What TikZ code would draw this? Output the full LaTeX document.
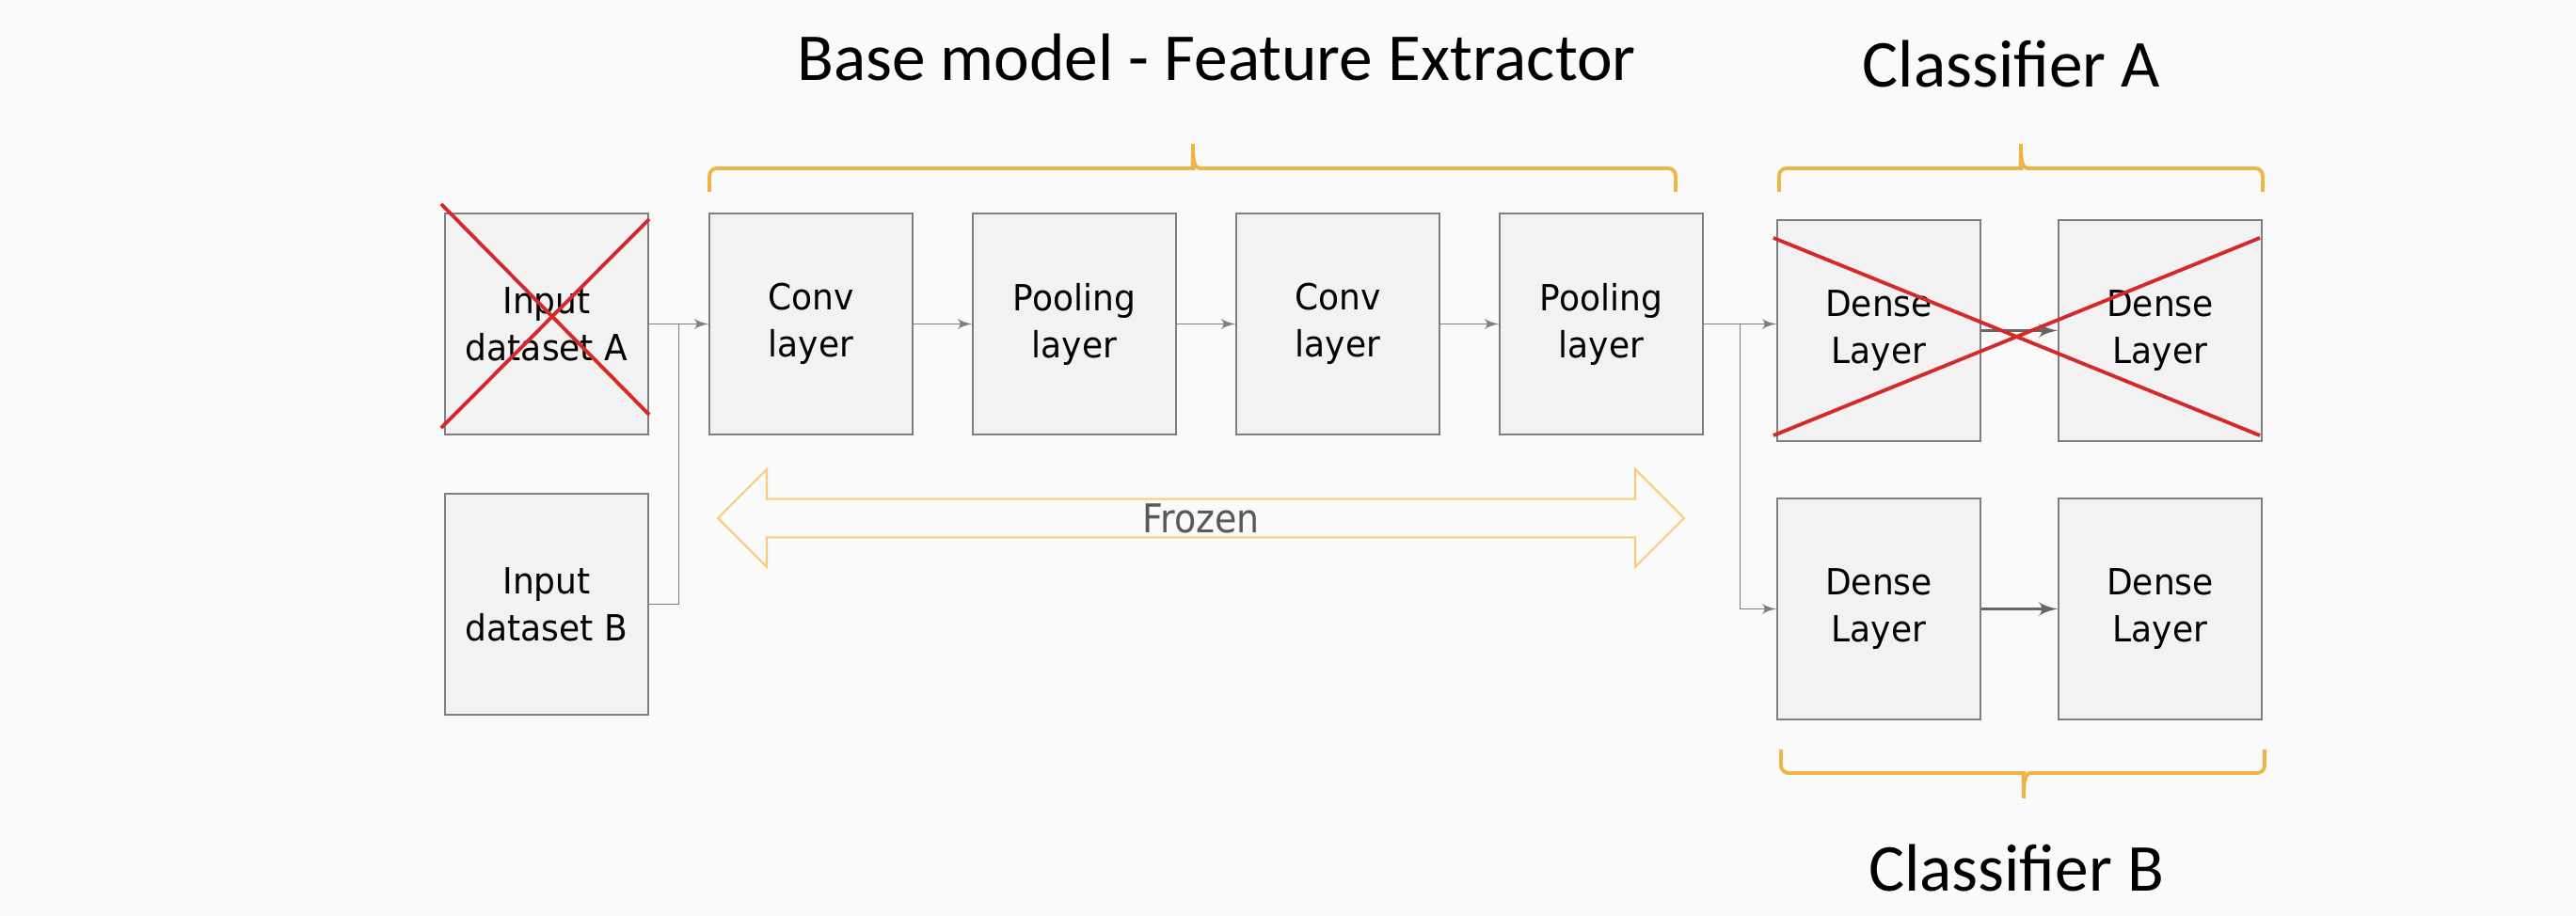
\documentclass[tikz,border=0pt]{standalone}
\usepackage{fontspec}
\setmainfont[FakeStretch=0.94]{DejaVu Sans}
\newfontfamily\headfont{Carlito}
\newfontfamily\frozenfont[FakeStretch=0.9]{DejaVu Sans}
\usetikzlibrary{arrows,positioning,calc,shapes.arrows}
\definecolor{colbg}{RGB}{250,250,250}
\definecolor{colbox}{RGB}{242,242,242}
\definecolor{colline}{RGB}{127,127,127}
\definecolor{colbrace}{RGB}{238,180,70}
\definecolor{colfrozen}{RGB}{250,204,120}
\definecolor{colcross}{RGB}{212,42,42}
\tikzstyle{layerbox}=[draw=colline, line width=0.6pt, fill=colbox, minimum width=2.16cm, minimum height=2.35cm, align=center, inner sep=0pt, font=\fontsize{10.9}{14.2}\selectfont]
\tikzstyle{link}=[color=colline, line width=0.5pt]
\tikzstyle{thick link}=[color=black!60, line width=1pt]
\tikzstyle{curly}=[draw=colbrace, line width=1.1pt]
\tikzstyle{redcross}=[draw=colcross, line width=1.1pt]
\tikzstyle{headline}=[font=\headfont\fontsize{20.3}{24}\selectfont, anchor=base]
\begin{document}
\begin{tikzpicture}[>=latex',node distance=2.8cm]
    \fill[colbg] (0,0) rectangle (27.38,-9.74);
    \useasboundingbox (0,0) rectangle (27.38,-9.74);
    \node [layerbox] (ina) at (5.81,-3.445) {Input\\dataset A};
    \node [layerbox] (inb) [below of=ina,node distance=2.98cm] {Input\\dataset B};
    \node [layerbox] (conv1) [right of=ina,node distance=2.81cm] {Conv\\layer};
    \node [layerbox] (pool1) [right of=conv1] {Pooling\\layer};
    \node [layerbox] (conv2) [right of=pool1] {Conv\\layer};
    \node [layerbox] (pool2) [right of=conv2] {Pooling\\layer};
    \node [layerbox] (densea1) at (19.97,-3.515) {Dense\\Layer};
    \node [layerbox] (densea2) [right of=densea1,node distance=2.99cm] {Dense\\Layer};
    \node [layerbox] (denseb1) [below of=densea1,node distance=2.96cm] {Dense\\Layer};
    \node [layerbox] (denseb2) [right of=denseb1,node distance=2.99cm] {Dense\\Layer};
    \coordinate (joina) at ($(ina.east)!0.5!(conv1.west)$);
    \coordinate (joinb) at ($(pool2.east)!0.5!(pool2.east -| densea1.west)$);
    \path[->,link]
    (ina) edge (conv1)
    (conv1) edge (pool1)
    (pool1) edge (conv2)
    (conv2) edge (pool2)
    (pool2.east) edge (pool2.east -| densea1.west);
    \draw[link] (inb.east) -| (joina);
    \draw[->,link] (joinb) |- (denseb1.west);
    \path[->,thick link]
    (densea1) edge (densea2)
    (denseb1) edge (denseb2);
    % frozen part
    \node [draw=colfrozen, line width=0.6pt, double arrow, double arrow head extend=0.26cm, minimum width=1.04cm, minimum height=10.27cm, inner sep=0pt, font=\frozenfont\fontsize{12}{14}\selectfont, text=black!65] (frozen) at (12.765,-5.51) {Frozen};
    % braces
    \draw[curly] (7.54,-2.04) [rounded corners=0.8mm] -- (7.54,-1.79) -- (12.60,-1.79) [sharp corners] .. controls (12.67,-1.79) and (12.68,-1.70) .. (12.68,-1.53) .. controls (12.68,-1.70) and (12.69,-1.79) .. (12.76,-1.79) [rounded corners=0.8mm] -- (17.81,-1.79) -- (17.81,-2.04);
    \draw[curly] (18.91,-2.04) [rounded corners=0.8mm] -- (18.91,-1.79) -- (21.40,-1.79) [sharp corners] .. controls (21.47,-1.79) and (21.48,-1.70) .. (21.48,-1.53) .. controls (21.48,-1.70) and (21.49,-1.79) .. (21.56,-1.79) [rounded corners=0.8mm] -- (24.05,-1.79) -- (24.05,-2.04);
    \draw[curly] (18.93,-7.97) [rounded corners=0.8mm] -- (18.93,-8.22) -- (21.43,-8.22) [sharp corners] .. controls (21.50,-8.22) and (21.51,-8.31) .. (21.51,-8.49) .. controls (21.51,-8.31) and (21.52,-8.22) .. (21.59,-8.22) [rounded corners=0.8mm] -- (24.07,-8.22) -- (24.07,-7.97);
    % crossed out
    \draw[redcross] ([shift={(-0.03,0.09)}]ina.north west) -- ([shift={(0,0.22)}]ina.south east);
    \draw[redcross] ([shift={(-0.03,0.08)}]ina.south west) -- ([shift={(0,-0.07)}]ina.north east);
    \draw[redcross] ([shift={(-0.03,-0.20)}]densea1.north west) -- ([shift={(-0.03,0.07)}]densea2.south east);
    \draw[redcross] ([shift={(-0.03,0.07)}]densea1.south west) -- ([shift={(-0.03,-0.20)}]densea2.north east);
    \node [headline] (basetitle) at (12.93,-0.86) {Base model - Feature Extractor};
    \node [headline] (clsa) at (21.38,-0.93) {Classifier A};
    \node [headline] (clsb) at (21.43,-9.48) {Classifier B};
\end{tikzpicture}
\end{document}
